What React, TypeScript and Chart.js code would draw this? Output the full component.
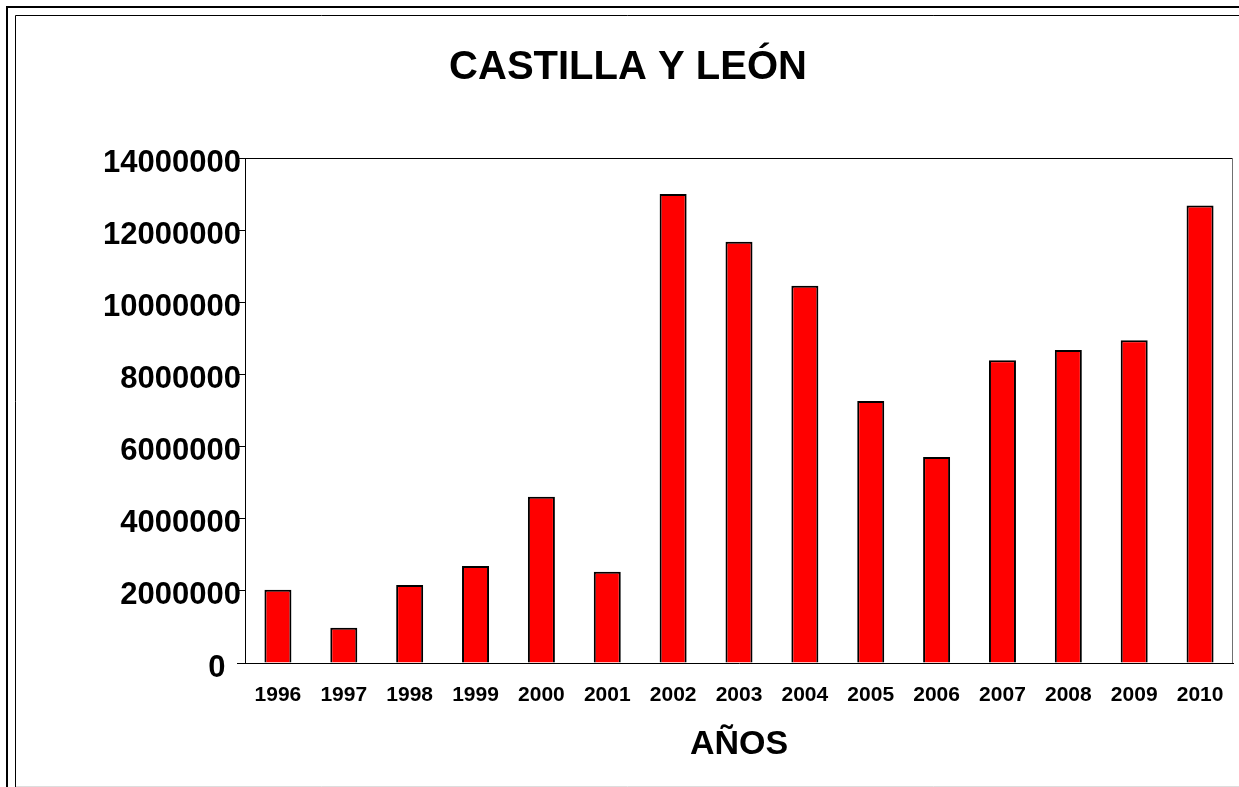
import React, { useEffect, useRef } from "react";
import { Chart, registerables } from "chart.js";

Chart.register(...registerables);

const years: string[] = ["1996", "1997", "1998", "1999", "2000", "2001", "2002", "2003", "2004", "2005", "2006", "2007", "2008", "2009", "2010"];
const values: number[] = [2030000, 980000, 2160000, 2690000, 4610000, 2530000, 13000000, 11680000, 10460000, 7260000, 5710000, 8390000, 8680000, 8950000, 12680000];
const yTicks: number[] = [0, 2000000, 4000000, 6000000, 8000000, 10000000, 12000000, 14000000];

const chartTitle = "CASTILLA Y LEÓN";
const xTitle = "AÑOS";

const W = 1239;
const H = 787;
const FONT = "'Liberation Sans', Arial, sans-serif";

const framePlugin = {
  id: "frame",
  beforeDraw(chart: any) {
    const ctx = chart.ctx;
    ctx.save();
    ctx.fillStyle = "#ffffff";
    ctx.fillRect(0, 0, chart.width, chart.height);
    ctx.strokeStyle = "#000000";
    ctx.lineWidth = 2;
    ctx.beginPath();
    ctx.moveTo(7, H + 10);
    ctx.lineTo(7, 7);
    ctx.lineTo(W + 10, 7);
    ctx.stroke();
    ctx.lineWidth = 1;
    ctx.beginPath();
    ctx.moveTo(15.5, H + 10);
    ctx.lineTo(15.5, 15.5);
    ctx.lineTo(W + 10, 15.5);
    ctx.stroke();
    ctx.strokeStyle = "#dddddd";
    ctx.beginPath();
    ctx.moveTo(16, H - 0.5);
    ctx.lineTo(W, H - 0.5);
    ctx.stroke();
    ctx.restore();
  },
  afterDraw(chart: any) {
    const { ctx, chartArea } = chart;
    ctx.save();
    ctx.lineWidth = 1;
    ctx.strokeStyle = "#000000";
    ctx.beginPath();
    ctx.moveTo(chartArea.left, chartArea.top + 0.5);
    ctx.lineTo(chartArea.right, chartArea.top + 0.5);
    ctx.stroke();
    ctx.strokeStyle = "#707070";
    ctx.beginPath();
    ctx.moveTo(chartArea.right - 0.5, chartArea.top);
    ctx.lineTo(chartArea.right - 0.5, chartArea.bottom);
    ctx.stroke();
    ctx.restore();
  },
};

export default function App() {
  const ref = useRef<HTMLCanvasElement | null>(null);

  useEffect(() => {
    if (!ref.current) return;
    Chart.defaults.font.family = FONT;
    const chart = new Chart(ref.current, {
      type: "bar",
      data: {
        labels: years,
        datasets: [
          {
            data: values,
            backgroundColor: "#ff0000",
            borderColor: "#000000",
            borderWidth: 2,
            categoryPercentage: 1,
            barPercentage: 0.41,
          },
        ],
      },
      options: {
        responsive: false,
        animation: false,
        layout: { padding: { left: 23, right: 6, top: 0, bottom: 0 } },
        plugins: {
          legend: { display: false },
          tooltip: { enabled: false },
          title: {
            display: true,
            text: chartTitle,
            color: "#000000",
            font: { family: FONT, size: 40, weight: "bold" },
            padding: { top: 44, bottom: 66 },
          },
        },
        scales: {
          x: {
            grid: { display: false, drawTicks: false },
            border: { display: true, color: "#000000", width: 1 },
            ticks: {
              color: "#000000",
              font: { family: FONT, size: 21, weight: "bold" },
              padding: 20,
              maxRotation: 0,
              autoSkip: false,
            },
            title: {
              display: true,
              text: xTitle,
              color: "#000000",
              font: { family: FONT, size: 34, weight: "bold" },
              padding: { top: 0, bottom: 21.6 },
            },
            afterFit(scale: any) {
              scale.height = 124;
              scale.paddingLeft = 0;
              scale.paddingRight = 0;
            },
          },
          y: {
            min: 0,
            max: 14000000,
            afterBuildTicks(scale: any) {
              scale.ticks = yTicks.map((v) => ({ value: v }));
            },
            grid: {
              drawOnChartArea: false,
              drawTicks: true,
              tickLength: 8,
              color: "#000000",
            },
            border: { display: true, color: "#000000", width: 1 },
            ticks: {
              color: "#000000",
              font: { family: FONT, size: 31, weight: "bold" },
              padding: -4,
              labelOffset: 5,
              callback: (v: any) => (Number(v) === 0 ? "0\u2002" : String(v)),
            },
            afterFit(scale: any) {
              scale.width = 245 - 23;
            },
          },
        },
      },
      plugins: [framePlugin],
    });
    return () => chart.destroy();
  }, []);

  return (
    <div style={{ position: "absolute", left: 0, top: 0, width: W, height: H, overflow: "hidden" }}>
      <canvas ref={ref} width={W} height={H} style={{ display: "block" }} />
    </div>
  );
}
